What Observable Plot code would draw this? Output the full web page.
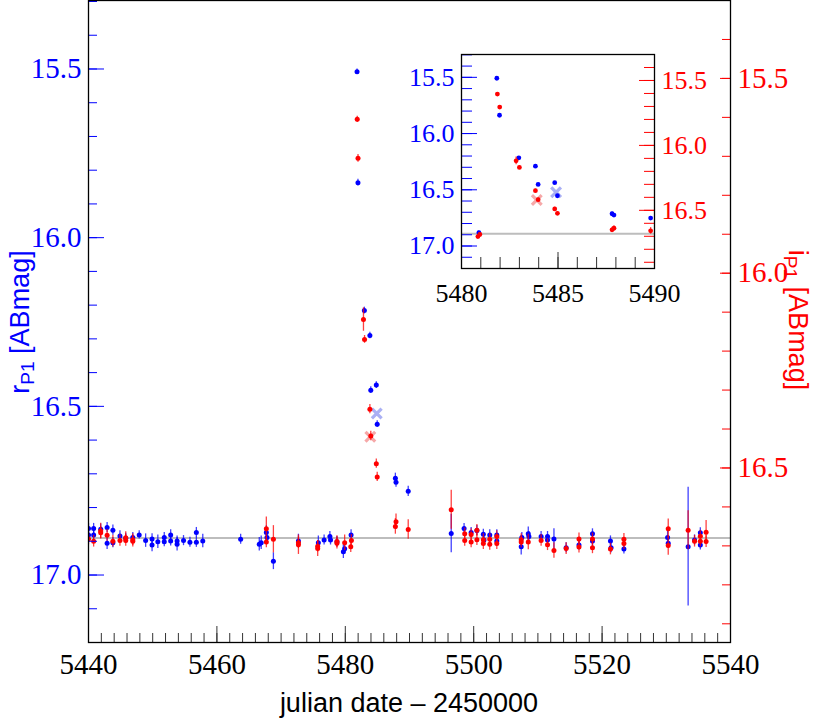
<!DOCTYPE html>
<html><head><meta charset="utf-8">
<script src="https://cdn.jsdelivr.net/npm/d3@7"></script>
<script src="https://cdn.jsdelivr.net/npm/@observablehq/plot@0.6"></script>
<style>
html,body{margin:0;padding:0;background:#fff;}
#wrap{position:relative;width:816px;height:720px;overflow:hidden;background:#fff;}
#main{position:absolute;left:0;top:0;}
#inset{position:absolute;left:380px;top:30px;}
svg{overflow:visible;}
svg text.tick-label, svg g[aria-label$="axis tick label"] text{font-family:"Liberation Serif","Tinos","DejaVu Serif","Noto Serif","Times New Roman",Times,serif !important;}
svg text.title{font-family:"Liberation Sans",Arimo,Arial,Helvetica,sans-serif !important;}
</style></head><body>
<div id="wrap"><div id="main"></div><div id="inset"></div></div>
<script>
// ---- r_P1 (blue) photometry: day (JD-2450000), magnitude, error ----
const rDay = [5440.0,5440.0,5440.8,5440.8,5441.9,5442.9,5442.9,5443.8,5443.8,5444.9,5445.8,5446.9,5447.9,5448.9,5449.9,5449.9,5450.8,5451.8,5451.8,5452.8,5452.8,5453.8,5453.8,5454.8,5455.8,5456.8,5456.8,5457.8,5463.7,5466.6,5466.9,5467.7,5467.8,5468.8,5472.7,5475.8,5476.7,5477.6,5477.7,5478.7,5479.7,5479.9,5480.9,5481.83,5481.97,5482.97,5483.83,5483.97,5484.83,5484.97,5487.8,5487.9,5489.8,5496.5,5498.5,5499.6,5500.5,5501.5,5501.6,5502.5,5503.6,5503.6,5507.4,5507.5,5508.5,5508.6,5510.5,5511.5,5511.5,5512.5,5514.4,5516.4,5518.5,5518.5,5521.3,5521.4,5523.4,5530.2,5530.3,5533.4,5534.4,5535.3,5535.3];
const rMag = [16.862,16.881,16.862,16.881,16.864,16.859,16.906,16.867,16.904,16.884,16.891,16.889,16.881,16.898,16.893,16.911,16.901,16.901,16.889,16.881,16.899,16.899,16.909,16.898,16.903,16.874,16.903,16.899,16.894,16.909,16.904,16.874,16.889,16.959,16.899,16.904,16.896,16.886,16.896,16.901,16.931,16.922,16.881,15.508,15.837,16.216,16.290,16.452,16.437,16.553,16.713,16.725,16.752,16.877,16.862,16.874,16.868,16.879,16.896,16.881,16.881,16.899,16.916,16.889,16.878,16.886,16.886,16.886,16.896,16.893,16.919,16.911,16.899,16.878,16.899,16.919,16.923,16.889,16.906,16.916,16.896,16.875,16.911];
const rErr = [0.015,0.015,0.015,0.015,0.015,0.015,0.018,0.015,0.015,0.015,0.015,0.015,0.012,0.02,0.015,0.02,0.02,0.015,0.015,0.015,0.015,0.015,0.02,0.015,0.015,0.015,0.015,0.02,0.015,0.02,0.02,0.02,0.015,0.025,0.02,0.02,0.015,0.015,0.015,0.015,0.02,0.015,0.015,0.008,0.01,0.01,0.01,0.01,0.01,0.01,0.015,0.015,0.015,0.057,0.015,0.015,0.015,0.015,0.015,0.015,0.015,0.015,0.025,0.015,0.02,0.015,0.015,0.015,0.015,0.03,0.015,0.015,0.015,0.015,0.015,0.015,0.015,0.02,0.015,0.176,0.015,0.015,0.015];

// ---- i_P1 (red) photometry ----
const iDay = [5440.0,5440.8,5441.9,5441.9,5442.9,5443.8,5444.9,5445.8,5445.8,5446.9,5446.9,5467.7,5467.7,5468.8,5472.7,5472.7,5475.7,5475.7,5478.7,5478.7,5479.9,5480.85,5480.95,5481.86,5481.98,5482.83,5483.0,5483.83,5483.97,5484.83,5484.97,5487.8,5487.9,5489.8,5496.5,5498.6,5498.6,5499.6,5499.6,5500.5,5500.5,5501.5,5501.5,5502.5,5502.5,5503.6,5503.6,5507.4,5507.4,5508.5,5510.5,5511.5,5512.5,5514.4,5516.4,5516.4,5518.5,5518.5,5521.3,5523.4,5523.4,5530.3,5530.3,5533.4,5534.4,5535.3,5535.3,5536.2,5536.2];
const iMag = [16.682,16.688,16.662,16.666,16.673,16.688,16.686,16.679,16.686,16.684,16.688,16.656,16.690,16.683,16.692,16.697,16.701,16.707,16.689,16.693,16.692,16.702,16.686,15.605,15.705,16.119,16.170,16.349,16.418,16.489,16.523,16.650,16.638,16.658,16.607,16.669,16.686,16.671,16.690,16.660,16.684,16.684,16.694,16.696,16.683,16.694,16.676,16.690,16.684,16.690,16.686,16.697,16.712,16.707,16.703,16.682,16.705,16.682,16.708,16.683,16.694,16.699,16.656,16.660,16.688,16.675,16.688,16.665,16.689];
const iErr = [0.015,0.015,0.02,0.015,0.015,0.015,0.015,0.015,0.015,0.015,0.015,0.03,0.015,0.035,0.015,0.025,0.015,0.02,0.015,0.015,0.02,0.015,0.015,0.008,0.01,0.03,0.01,0.012,0.012,0.012,0.012,0.02,0.02,0.025,0.05,0.015,0.015,0.015,0.015,0.015,0.015,0.015,0.015,0.015,0.015,0.015,0.015,0.015,0.015,0.02,0.015,0.015,0.02,0.015,0.015,0.015,0.015,0.015,0.015,0.015,0.015,0.025,0.025,0.05,0.015,0.015,0.015,0.03,0.015];

// ---- highlighted (cross) points ----
const rCrossDay = [5484.9];
const rCrossMag = [16.521];
const iCrossDay = [5483.9];
const iCrossMag = [16.42];

// ---- reference level (grey line, r_P1 scale) ----
const refLevel = [16.89];

// ---- axes ----
const rDomain = [15.297, 17.2];
const iDomain = [15.3, 16.948];
const rMajor = [15.5, 16.0, 16.5, 17.0];
const iMajor = [15.5, 16.0, 16.5];
const rMinor = d3.range(153, 173).map(v => v / 10);
const iMinor = d3.range(153, 170).map(v => v / 10);
const mainXMajor = [5440, 5460, 5480, 5500, 5520, 5540];
const mainXMinor = d3.range(5440, 5541, 2);
const insetXMajor = [5480, 5485, 5490];
const insetXMinor = d3.range(5480, 5491, 1);

const BLUE = "#0000ff", RED = "#ff0000";
const SERIF = "'Liberation Serif', Tinos, 'DejaVu Serif', 'Noto Serif', 'Times New Roman', Times, serif";
const SANS = "'Liberation Sans', Arimo, Arial, Helvetica, sans-serif";
const iToR = i => rDomain[0] + (i - iDomain[0]) * (rDomain[1] - rDomain[0]) / (iDomain[1] - iDomain[0]);
const rToI = r => iDomain[0] + (r - rDomain[0]) * (iDomain[1] - iDomain[0]) / (rDomain[1] - rDomain[0]);

const rData = rDay.map((d, k) => ({day: d, y: rMag[k], lo: rMag[k] - rErr[k], hi: rMag[k] + rErr[k]}));
const iData = iDay.map((d, k) => ({day: d, y: iToR(iMag[k]), lo: iToR(iMag[k] - iErr[k]), hi: iToR(iMag[k] + iErr[k])}));
const rCross = rCrossDay.map((d, k) => ({day: d, y: rCrossMag[k]}));
const iCross = iCrossDay.map((d, k) => ({day: d, y: iToR(iCrossMag[k])}));

function chart(c) {
  const inX = d => d.day >= c.x[0] - 0.3 && d.day <= c.x[1] + 0.3;
  const R = rData.filter(inX), I = iData.filter(inX);
  const fmt = () => "";
  const marks = [];
  if (c.inset) marks.push(Plot.frame({fill: "white", stroke: null}));
  marks.push(
    Plot.ruleY(refLevel, {stroke: "#bdbdbd", strokeWidth: 2}),
    Plot.dot(rCross, {x: "day", y: "y", symbol: "times", r: c.cr, stroke: "#aab0f4", strokeWidth: 3.2}),
    Plot.dot(iCross, {x: "day", y: "y", symbol: "times", r: c.cr, stroke: "#f6a8a8", strokeWidth: 3.2}),
    Plot.ruleX(R, {x: "day", y1: "lo", y2: "hi", stroke: BLUE, strokeOpacity: 0.75, strokeWidth: 1.3, clip: true}),
    Plot.dot(R, {x: "day", y: "y", r: c.r, fill: BLUE, clip: true}),
    Plot.ruleX(I, {x: "day", y1: "lo", y2: "hi", stroke: RED, strokeOpacity: 0.75, strokeWidth: 1.3, clip: true}),
    Plot.dot(I, {x: "day", y: "y", r: c.r, fill: RED, clip: true}),
    // x ticks (inward) and labels
    Plot.axisX(c.xMinor, {anchor: "bottom", tickSize: -c.minor, tickFormat: fmt, color: "#333", label: null}),
    Plot.axisX(c.xMajor, {anchor: "bottom", tickSize: -c.major, tickFormat: fmt, color: "#333", label: null}),
    Plot.axisX(c.xMajor, {anchor: "bottom", tickSize: 0, tickPadding: c.xPad, tickFormat: d => String(d), color: "black", fontSize: c.xfs, fontFamily: SERIF, label: null}),
    // left (r) axis
    Plot.axisY(rMinor, {anchor: "left", tickSize: -c.minor, tickFormat: fmt, color: BLUE, label: null}),
    Plot.axisY(rMajor, {anchor: "left", tickSize: -c.major, tickFormat: fmt, color: BLUE, label: null}),
    Plot.axisY(rMajor, {anchor: "left", tickSize: 0, tickPadding: 7, tickFormat: d => d.toFixed(1), color: BLUE, fontSize: c.yfs, fontFamily: SERIF, label: null}),
    // right (i) axis
    Plot.axisY(iMinor.map(iToR), {anchor: "right", tickSize: -c.minor, tickFormat: fmt, color: RED, label: null}),
    Plot.axisY(iMajor.map(iToR), {anchor: "right", tickSize: -c.rmajor, tickFormat: fmt, color: RED, label: null}),
    Plot.axisY(iMajor.map(iToR), {anchor: "right", tickSize: 0, tickPadding: 7, tickFormat: d => rToI(d).toFixed(1), color: RED, fontSize: c.yfs, fontFamily: SERIF, label: null}),
    Plot.frame({stroke: "black", strokeWidth: 1.3})
  );
  const svgEl = Plot.plot({
    width: c.w, height: c.h,
    marginLeft: c.ml, marginRight: c.mr, marginTop: c.mt, marginBottom: c.mb,
    style: {background: "transparent", fontFamily: SERIF, fontSize: c.yfs + "px", overflow: "visible"},
    x: {domain: c.x},
    y: {domain: [rDomain[1], rDomain[0]]},
    marks
  });
  // tick labels use the serif face
  d3.select(svgEl).selectAll("text").classed("tick-label", true)
    .attr("font-family", SERIF).style("font-family", SERIF).style("font-variant", "normal");
  return svgEl;
}

const mainSvg = chart({w: 816, h: 720, ml: 88, mr: 86, mt: 0, mb: 78, x: [5440, 5540],
  xMajor: mainXMajor, xMinor: mainXMinor, minor: 9, major: 16, rmajor: 11, xPad: 11, xfs: 29, yfs: 29, r: 2.5, cr: 4.5, inset: false});
document.getElementById("main").appendChild(mainSvg);

const insetSvg = chart({w: 340, h: 300, ml: 81, mr: 66, mt: 24, mb: 62, x: [5480, 5490],
  xMajor: insetXMajor, xMinor: insetXMinor, minor: 11, major: 16, rmajor: 16, xPad: 15, xfs: 26, yfs: 26, r: 2.4, cr: 4.5, inset: true});
document.getElementById("inset").appendChild(insetSvg);

// axis titles
const svg = d3.select(mainSvg);
function yTitle(x, y, rot, base, color) {
  const t = svg.append("text").attr("class", "title")
    .attr("transform", `translate(${x},${y}) rotate(${rot})`)
    .attr("text-anchor", "middle")
    .attr("fill", color)
    .style("font-family", SANS).style("font-size", "27px");
  t.append("tspan").text(base);
  t.append("tspan").attr("dy", 5).style("font-size", "19px").text("P1");
  t.append("tspan").attr("dy", -5).text(" [ABmag]");
}
yTitle(29, 322, -90, "r", BLUE);
yTitle(789, 320, 90, "i", RED);
svg.append("text").attr("class", "title")
  .attr("x", 409).attr("y", 712)
  .attr("text-anchor", "middle")
  .attr("fill", "black")
  .style("font-family", SANS).style("font-size", "27px")
  .text("julian date \u2013 2450000");
</script>
</body></html>
